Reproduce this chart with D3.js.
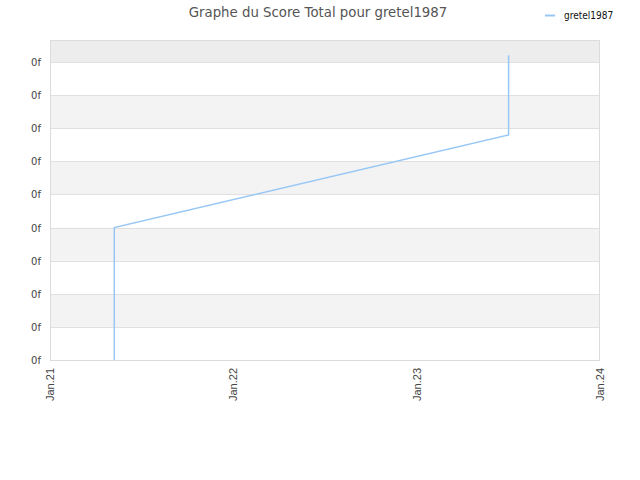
<!DOCTYPE html>
<html><head><meta charset="utf-8">
<script src="https://cdn.jsdelivr.net/npm/d3@7"></script>
<style>body{margin:0;background:#fff;}svg{display:block;}</style>
</head><body>
<svg id="c" width="640" height="480"></svg>
<script>
const title = "Graphe du Score Total pour gretel1987";
const seriesName = "gretel1987";
const dates = ["2021-05-09","2021-05-09","2021-05-09","2021-05-09","2021-05-09","2021-05-09","2021-05-09","2021-05-09","2023-07-03","2023-07-03"];
const values = [0, 0.39, 0.82, 1.21, 1.81, 2.42, 3.2, 4.0, 6.8, 9.21];
const yTicks = [0,1,2,3,4,5,6,7,8,9];
const yTickLabel = "0f";
const xTicks = ["2021-01-01","2022-01-01","2023-01-01","2024-01-01"];
const xTickLabels = ["Jan.21","Jan.22","Jan.23","Jan.24"];

const svg = d3.select("#c");
const L=50,R=600,T=40,B=360;
const parse = d3.utcParse("%Y-%m-%d");
const x = d3.scaleUtc().domain([parse(xTicks[0]), parse(xTicks[3])]).range([L,R]);
const y = d3.scaleLinear().domain([0, 9.667]).range([B,T]);

svg.append("rect").attr("x",L).attr("y",T).attr("width",R-L).attr("height",y(9)-T).attr("fill","#ededed");
for(let i=0;i<9;i++){
  svg.append("rect").attr("x",L).attr("y",y(i+1)).attr("width",R-L).attr("height",y(i)-y(i+1))
    .attr("fill", (i%2===1)?"#f3f3f3":"#ffffff");
}
svg.selectAll(".g").data(yTicks).enter().append("line")
  .attr("x1",L).attr("x2",R).attr("y1",d=>Math.round(y(d))+0.5).attr("y2",d=>Math.round(y(d))+0.5)
  .attr("stroke","#e0e0e0").attr("stroke-width",1);
svg.append("rect").attr("x",L+0.5).attr("y",T+0.5).attr("width",R-L-1).attr("height",B-T)
  .attr("fill","none").attr("stroke","#dcdcdc");

svg.selectAll(".yl").data(yTicks).enter().append("text")
  .attr("x",41).attr("y",d=>y(d)+4).attr("text-anchor","end")
  .attr("font-family","DejaVu Sans, sans-serif").attr("font-size","10px").attr("fill","#444")
  .text(yTickLabel);

xTicks.forEach((t,i)=>{
  const xx = x(parse(t));
  svg.append("text").attr("transform",`translate(${xx+4},368) rotate(-90)`)
    .attr("text-anchor","end").attr("font-family","Liberation Sans, Arial, sans-serif")
    .attr("font-size","11px").attr("fill","#444").text(xTickLabels[i]);
});

const data = dates.map((d,i)=>({d:parse(d),v:values[i]}));
svg.append("path").datum(data)
  .attr("d", d3.line().x(d=>x(d.d)).y(d=>y(d.v)))
  .attr("fill","none").attr("stroke","#99c7f5").attr("stroke-width",1.5);

svg.append("text").attr("x",318).attr("y",17).attr("text-anchor","middle")
  .attr("font-family","DejaVu Sans, sans-serif").attr("font-size","13.3px").attr("fill","#555").text(title);
svg.append("line").attr("x1",545).attr("x2",555).attr("y1",15.5).attr("y2",15.5).attr("stroke","#99c7f5").attr("stroke-width",2);
svg.append("text").attr("x",564).attr("y",19).attr("font-family","DejaVu Sans Condensed, DejaVu Sans, sans-serif")
  .attr("font-size","10px").attr("fill","#111").text(seriesName);
</script>
</body></html>
